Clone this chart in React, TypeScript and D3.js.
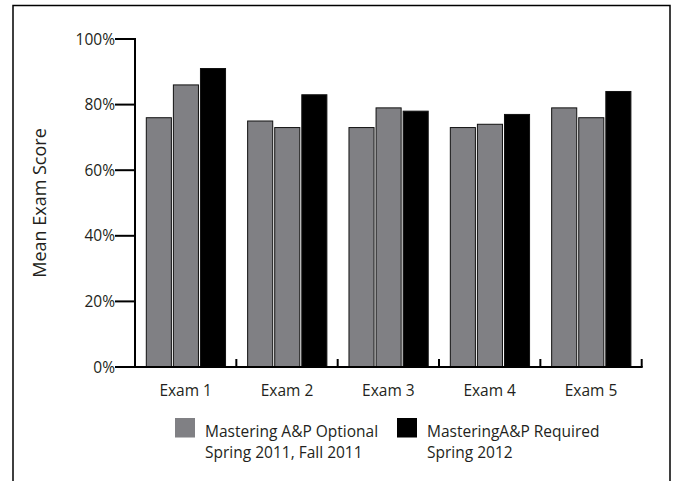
import * as d3 from "d3";
import { useEffect, useRef } from "react";

const exams = ["Exam 1", "Exam 2", "Exam 3", "Exam 4", "Exam 5"];
const seriesNames = ["Spring 2011", "Fall 2011", "Spring 2012"];
const spring2011 = [76, 75, 73, 73, 79];
const fall2011 = [86, 73, 79, 74, 76];
const spring2012 = [91, 83, 78, 77, 84];
const yTicks = [0, 20, 40, 60, 80, 100];
const legendItems = [
  { lines: ["Mastering A&P Optional", "Spring 2011, Fall 2011"], color: "#808084" },
  { lines: ["MasteringA&P Required", "Spring 2012"], color: "#000000" },
];

const WIDTH = 677;
const HEIGHT = 481;
const PLOT = { left: 135, right: 641.7, top: 39, bottom: 367 };
const GRAY = "#808084";
const FONT = "'Open Sans', 'DejaVu Sans', sans-serif";

export default function App() {
  const svgRef = useRef<SVGSVGElement | null>(null);

  useEffect(() => {
    if (!svgRef.current) return;
    const svg = d3.select(svgRef.current);
    svg.selectAll("*").remove();

    const values = [spring2011, fall2011, spring2012];
    const colors = [GRAY, GRAY, "#000000"];

    const x = d3.scaleBand<string>().domain(exams).range([PLOT.left, PLOT.right]);
    const xInner = d3
      .scaleBand<string>()
      .domain(seriesNames)
      .range([11.3, x.bandwidth() - 10.8])
      .paddingInner(0.074);
    const y = d3.scaleLinear().domain([0, 100]).range([PLOT.bottom, PLOT.top]);

    // frame (open at the bottom)
    svg
      .append("path")
      .attr("d", `M13,${HEIGHT} V5.5 H670 V${HEIGHT}`)
      .attr("fill", "none")
      .attr("stroke", "#000")
      .attr("stroke-width", 1.5);

    // bars
    const groups = svg
      .append("g")
      .selectAll("g")
      .data(exams)
      .join("g")
      .attr("transform", (d) => `translate(${x(d)},0)`);

    groups
      .selectAll("rect")
      .data((_, i) => seriesNames.map((s, j) => ({ s, v: values[j][i], c: colors[j] })))
      .join("rect")
      .attr("x", (d) => xInner(d.s) ?? 0)
      .attr("y", (d) => y(d.v))
      .attr("width", xInner.bandwidth())
      .attr("height", (d) => y(0) - y(d.v))
      .attr("fill", (d) => d.c)
      .attr("stroke", "#111")
      .attr("stroke-width", 1);

    // y axis
    const yAxis = svg.append("g");
    yAxis
      .append("line")
      .attr("x1", PLOT.left)
      .attr("x2", PLOT.left)
      .attr("y1", y(100) - 1)
      .attr("y2", y(0) + 1)
      .attr("stroke", "#000")
      .attr("stroke-width", 2);
    yAxis
      .selectAll("line.tick")
      .data(yTicks)
      .join("line")
      .attr("class", "tick")
      .attr("x1", PLOT.left - 20)
      .attr("x2", PLOT.left)
      .attr("y1", (d) => y(d))
      .attr("y2", (d) => y(d))
      .attr("stroke", "#000")
      .attr("stroke-width", 2);
    yAxis
      .selectAll("text")
      .data(yTicks)
      .join("text")
      .attr("x", PLOT.left - 20)
      .attr("y", (d) => y(d))
      .attr("dy", "0.36em")
      .attr("text-anchor", "end")
      .attr("font-family", FONT)
      .attr("font-size", 15.5)
      .attr("fill", "#231f20")
      .text((d) => `${d}%`);

    // x axis
    const xAxis = svg.append("g");
    xAxis
      .append("line")
      .attr("x1", PLOT.left - 1)
      .attr("x2", PLOT.right + 1)
      .attr("y1", PLOT.bottom)
      .attr("y2", PLOT.bottom)
      .attr("stroke", "#000")
      .attr("stroke-width", 2);
    const boundaries = [...exams.map((d) => x(d) ?? 0), PLOT.right];
    xAxis
      .selectAll("line.tick")
      .data(boundaries)
      .join("line")
      .attr("class", "tick")
      .attr("x1", (d) => d)
      .attr("x2", (d) => d)
      .attr("y1", PLOT.bottom - 8)
      .attr("y2", PLOT.bottom)
      .attr("stroke", "#000")
      .attr("stroke-width", 2);
    xAxis
      .selectAll("text")
      .data(exams)
      .join("text")
      .attr("x", (d) => (x(d) ?? 0) + x.bandwidth() / 2)
      .attr("y", 396)
      .attr("text-anchor", "middle")
      .attr("font-family", FONT)
      .attr("font-size", 15.5)
      .attr("fill", "#231f20")
      .text((d) => d);

    // y label
    svg
      .append("text")
      .attr("transform", `translate(46,203) rotate(-90)`)
      .attr("text-anchor", "middle")
      .attr("font-family", FONT)
      .attr("font-size", 18)
      .attr("fill", "#231f20")
      .text("Mean Exam Score");

    // legend
    const legendX = [175, 397];
    const legend = svg
      .append("g")
      .selectAll("g")
      .data(legendItems)
      .join("g")
      .attr("transform", (_, i) => `translate(${legendX[i]},418)`);
    legend
      .append("rect")
      .attr("width", 20)
      .attr("height", 19.5)
      .attr("fill", (d) => d.color);
    legend
      .append("text")
      .attr("font-family", FONT)
      .attr("font-size", 15.5)
      .attr("fill", "#231f20")
      .selectAll("tspan")
      .data((d) => d.lines)
      .join("tspan")
      .attr("x", 30)
      .attr("y", (_, i) => 18.5 + i * 21)
      .text((d) => d);
  }, []);

  return (
    <svg
      ref={svgRef}
      width={WIDTH}
      height={HEIGHT}
      style={{ position: "absolute", left: 0, top: 0, background: "#fff" }}
    />
  );
}
